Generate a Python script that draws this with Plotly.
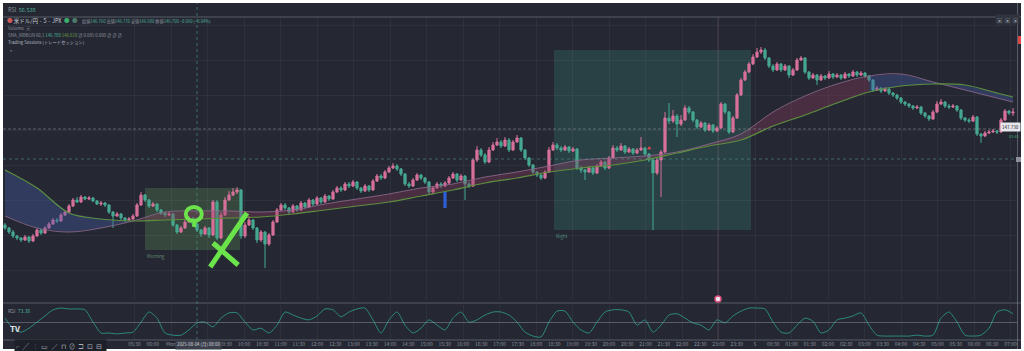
import plotly.graph_objects as go

W, H = 1024, 351


def px(x):
    return x / W


def py(y):
    return 1 - y / H


# ---------------- data (USD/JPY 5m) ----------------
first_open = 146.75
closes = [
    146.72, 146.68, 146.64, 146.62, 146.60, 146.63, 146.59, 146.64, 146.70, 146.67,
    146.72, 146.76, 146.80, 146.79, 146.85, 146.88, 146.94, 147.00, 146.98, 147.03,
    147.01, 147.02, 146.99, 146.96, 146.97, 146.95, 146.88, 146.84, 146.86, 146.82,
    146.80, 146.81, 146.84, 146.95, 147.05, 147.00, 146.94, 146.96, 146.90, 146.87,
    146.85, 146.86, 146.75, 146.68, 146.72, 146.78, 146.82, 146.76, 146.70, 146.66,
    146.72, 146.65, 146.98, 146.62, 146.85, 147.00, 147.05, 147.08, 147.10, 146.64,
    146.75, 146.80, 146.72, 146.60, 146.68, 146.56, 146.65, 146.78, 146.90, 146.95,
    146.92, 146.88, 146.94, 146.90, 146.97, 146.93, 147.00, 146.96, 147.02, 146.98,
    147.04, 147.01, 147.08, 147.12, 147.10, 147.16, 147.14, 147.18, 147.12, 147.09,
    147.14, 147.10, 147.19, 147.24, 147.22, 147.28, 147.32, 147.34, 147.31, 147.26,
    147.16, 147.14, 147.20, 147.25, 147.22, 147.18, 147.08, 147.12, 147.16, 147.14,
    147.17, 147.22, 147.26, 147.20, 147.24, 147.16, 147.14, 147.40, 147.50, 147.45,
    147.38, 147.50, 147.55, 147.58, 147.54, 147.60, 147.50, 147.58, 147.62, 147.50,
    147.42, 147.35, 147.28, 147.25, 147.22, 147.28, 147.50, 147.55, 147.52, 147.50,
    147.53, 147.49, 147.51, 147.32, 147.30, 147.28, 147.32, 147.27, 147.34, 147.38,
    147.32, 147.42, 147.52, 147.50, 147.54, 147.48, 147.51, 147.47, 147.50, 147.52,
    147.46, 147.40, 147.27, 147.40, 147.48, 147.82, 147.79, 147.84, 147.76, 147.80,
    147.92, 147.88, 147.80, 147.73, 147.77, 147.70, 147.75, 147.69, 147.72, 147.96,
    147.88, 147.68, 147.82, 148.05, 148.20, 148.28, 148.36, 148.43, 148.48, 148.50,
    148.42, 148.34, 148.30, 148.36, 148.30, 148.34, 148.25, 148.30, 148.40, 148.42,
    148.28, 148.22, 148.25, 148.20, 148.24, 148.22, 148.26, 148.23, 148.25, 148.22,
    148.26, 148.24, 148.28, 148.25, 148.27, 148.24, 148.20, 148.10, 148.12, 148.09,
    148.11, 148.07, 148.05, 148.02, 147.98, 147.96, 147.94, 147.92, 147.93, 147.87,
    147.84, 147.81, 147.88, 147.96, 147.98, 147.94, 147.93, 147.94, 147.90, 147.82,
    147.80, 147.79, 147.83, 147.66, 147.64, 147.67, 147.68, 147.69, 147.68, 147.80,
    147.89, 147.87, 147.88,
]
highs = [
    146.77, 146.73, 146.70, 146.65, 146.63, 146.65, 146.64, 146.66, 146.72, 146.71,
    146.74, 146.78, 146.82, 146.82, 146.87, 146.90, 146.96, 147.02, 147.03, 147.05,
    147.04, 147.04, 147.03, 147.00, 146.99, 146.98, 146.96, 146.89, 146.88, 146.87,
    146.83, 146.83, 146.86, 146.97, 147.08, 147.06, 147.01, 146.98, 146.97, 146.91,
    146.88, 146.88, 146.87, 146.76, 146.74, 146.80, 146.84, 146.83, 146.77, 146.71,
    146.74, 146.73, 147.00, 147.00, 146.88, 147.03, 147.09, 147.12, 147.13, 147.11,
    146.78, 146.84, 146.81, 146.73, 146.70, 146.69, 146.67, 146.80, 146.92, 146.97,
    146.97, 146.93, 146.96, 146.95, 146.99, 146.98, 147.02, 147.01, 147.04, 147.03,
    147.06, 147.05, 147.10, 147.14, 147.14, 147.18, 147.18, 147.20, 147.19, 147.13,
    147.16, 147.15, 147.21, 147.26, 147.26, 147.30, 147.34, 147.37, 147.36, 147.32,
    147.27, 147.18, 147.22, 147.27, 147.26, 147.23, 147.19, 147.14, 147.18, 147.18,
    147.19, 147.24, 147.28, 147.27, 147.26, 147.25, 147.18, 147.42, 147.54, 147.52,
    147.47, 147.53, 147.58, 147.62, 147.60, 147.63, 147.62, 147.60, 147.65, 147.63,
    147.51, 147.43, 147.36, 147.29, 147.27, 147.30, 147.53, 147.58, 147.57, 147.54,
    147.55, 147.54, 147.53, 147.52, 147.34, 147.31, 147.34, 147.33, 147.36, 147.40,
    147.39, 147.44, 147.55, 147.54, 147.57, 147.55, 147.53, 147.52, 147.52, 147.63,
    147.53, 147.47, 147.41, 147.42, 147.50, 147.88, 147.97, 147.90, 147.86, 147.85,
    147.95, 147.94, 147.89, 147.81, 147.79, 147.78, 147.77, 147.76, 147.74, 147.98,
    147.97, 147.89, 147.84, 148.07, 148.22, 148.30, 148.38, 148.46, 148.52, 148.53,
    148.52, 148.43, 148.36, 148.38, 148.37, 148.36, 148.35, 148.32, 148.42, 148.44,
    148.43, 148.29, 148.27, 148.26, 148.26, 148.25, 148.29, 148.27, 148.27, 148.26,
    148.28, 148.27, 148.30, 148.29, 148.29, 148.28, 148.25, 148.21, 148.14, 148.13,
    148.13, 148.12, 148.08, 148.06, 148.03, 147.99, 147.97, 147.95, 147.95, 147.94,
    147.88, 147.85, 147.90, 147.99, 148.01, 147.99, 147.96, 147.96, 147.95, 147.91,
    147.83, 147.82, 147.85, 147.84, 147.67, 147.69, 147.70, 147.71, 147.70, 147.82,
    147.91, 147.90, 147.92,
]
lows = [
    146.70, 146.66, 146.62, 146.60, 146.58, 146.59, 146.57, 146.58, 146.63, 146.65,
    146.66, 146.71, 146.75, 146.77, 146.78, 146.84, 146.87, 146.93, 146.97, 146.97,
    147.00, 147.00, 146.98, 146.95, 146.94, 146.93, 146.86, 146.72, 146.83, 146.80,
    146.78, 146.79, 146.80, 146.83, 146.94, 146.98, 146.92, 146.93, 146.88, 146.85,
    146.83, 146.84, 146.73, 146.66, 146.67, 146.71, 146.77, 146.74, 146.68, 146.63,
    146.65, 146.62, 146.64, 146.60, 146.61, 146.84, 146.99, 147.04, 147.06, 146.61,
    146.62, 146.74, 146.70, 146.57, 146.58, 146.32, 146.54, 146.64, 146.77, 146.89,
    146.90, 146.86, 146.87, 146.88, 146.89, 146.91, 146.92, 146.94, 146.95, 146.96,
    146.97, 146.99, 147.00, 147.07, 147.08, 147.09, 147.12, 147.13, 147.10, 147.07,
    147.08, 147.08, 147.09, 147.18, 147.20, 147.21, 147.27, 147.31, 147.29, 147.24,
    147.14, 147.12, 147.13, 147.19, 147.20, 147.16, 147.06, 147.06, 147.11, 147.12,
    147.13, 147.16, 147.21, 147.18, 147.19, 147.00, 147.12, 147.13, 147.38, 147.43,
    147.36, 147.37, 147.49, 147.54, 147.52, 147.53, 147.48, 147.49, 147.57, 147.48,
    147.40, 147.33, 147.26, 147.23, 147.20, 147.21, 147.27, 147.49, 147.50, 147.48,
    147.49, 147.47, 147.48, 147.30, 147.27, 147.20, 147.27, 147.25, 147.26, 147.33,
    147.30, 147.31, 147.41, 147.48, 147.49, 147.46, 147.47, 147.45, 147.46, 147.49,
    147.44, 147.38, 146.70, 147.25, 147.03, 147.47, 147.76, 147.77, 147.63, 147.74,
    147.79, 147.86, 147.78, 147.71, 147.72, 147.68, 147.69, 147.67, 147.68, 147.71,
    147.86, 147.66, 147.67, 147.81, 148.04, 148.19, 148.27, 148.35, 148.42, 148.46,
    148.40, 148.32, 148.28, 148.29, 148.28, 148.29, 148.22, 148.24, 148.29, 148.39,
    148.26, 148.20, 148.21, 148.15, 148.19, 148.20, 148.21, 148.21, 148.22, 148.20,
    148.21, 148.22, 148.23, 148.23, 148.24, 148.22, 148.18, 148.08, 148.09, 148.07,
    148.08, 148.05, 148.03, 148.00, 147.96, 147.94, 147.92, 147.90, 147.91, 147.85,
    147.82, 147.79, 147.80, 147.87, 147.95, 147.92, 147.91, 147.92, 147.88, 147.80,
    147.78, 147.77, 147.78, 147.64, 147.57, 147.63, 147.66, 147.67, 147.66, 147.67,
    147.79, 147.85, 147.84,
]
opens = [first_open] + closes[:-1]
bar_index = list(range(len(closes)))

# SMA ribbon (vertices every 8 bars)
ma_index = list(range(0, 249, 8)) + [252]
ma_slow = [147.30, 147.12, 146.87, 146.81, 146.79, 146.80, 146.81, 146.82, 146.83, 146.86,
           146.90, 146.94, 146.98, 147.04, 147.10, 147.17, 147.22, 147.28, 147.32, 147.35,
           147.40, 147.47, 147.54, 147.60, 147.74, 147.85, 147.97, 148.08, 148.14, 148.16,
           148.15, 148.07, 148.03]
ma_fast = [146.84, 146.72, 146.68, 146.72, 146.79, 146.88, 146.89, 146.89, 146.88, 146.90,
           146.96, 147.01, 147.06, 147.12, 147.16, 147.23, 147.28, 147.34, 147.40, 147.42,
           147.44, 147.48, 147.56, 147.66, 147.88, 148.04, 148.16, 148.24, 148.26, 148.18,
           148.10, 148.02, 147.98]
ribbon_segments = [(0, 4, "bear"), (4, 27, "bull"), (27, 32, "bear")]

# RSI (every 2 bars)
rsi = [60, 37, 28, 37, 51, 65, 79, 83, 81, 81,
       79, 51, 26, 26, 24, 26, 28, 51, 74, 60,
       26, 21, 21, 33, 49, 51, 40, 60, 72, 72,
       51, 33, 37, 26, 44, 74, 67, 60, 56, 65,
       81, 79, 63, 74, 81, 83, 56, 26, 56, 74,
       44, 26, 37, 56, 44, 33, 60, 74, 51, 56,
       67, 74, 74, 67, 51, 28, 19, 17, 51, 76,
       76, 51, 33, 26, 51, 74, 79, 79, 74, 44,
       56, 28, 44, 67, 70, 60, 49, 44, 33, 56,
       49, 65, 76, 83, 83, 81, 51, 28, 26, 44,
       60, 53, 26, 33, 56, 60, 65, 72, 44, 21,
       19, 19, 19, 19, 21, 19, 21, 60, 74, 51,
       21, 19, 21, 37, 74, 79, 70]
rsi_index = list(range(0, 2 * len(rsi), 2))

# Trading sessions
session_names = ["Morning", "Night"]
session_start = [35, 137.25]
session_end = [58.75, 186.5]
session_high = [147.12, 148.50]
session_low = [146.50, 146.70]

# time axis labels (30 min); the two right after "Mon" sit under the crosshair tag
time_labels = ["05:30", "06:00", "Mon", "08:30", "09:00", "09:30", "10:00", "10:30", "11:00",
               "11:30", "12:00", "12:30", "13:00", "13:30", "14:00", "14:30", "15:00", "15:30",
               "16:00", "16:30", "17:00", "17:30", "18:00", "18:30", "19:00", "19:30", "20:00",
               "20:30", "21:00", "21:30", "22:00", "22:30", "23:00", "23:30", "5", "00:30",
               "01:00", "01:30", "02:00", "02:30", "03:00", "03:30", "04:00", "04:30", "05:00",
               "05:30", "06:00", "06:30", "07:00"]
covered_by_crosshair = [3, 4]
mon_label_bar = 41.5
label_step = 4.5625
mon_pos = time_labels.index("Mon")
label_pos = [mon_label_bar + (k - mon_pos) * label_step for k in range(len(time_labels))]
grid_pos = label_pos[0::2]
shown = [k for k in range(len(time_labels)) if k not in covered_by_crosshair]
tick_vals = [label_pos[k] for k in shown]
tick_text = [time_labels[k] for k in shown]

crosshair_bar = 48
event_bar = 178.25
last_price_level = 147.71
dotted_level = 147.41

# ---------------- styles ----------------
BG = "#252833"
UP = "#d7719a"
DN = "#46a890"
GRID = "rgba(255,255,255,0.045)"
SEP = "rgba(150,155,170,0.45)"
FONT = "Noto Sans CJK JP"
HAND = "#6be34a"

fig = go.Figure()

# ribbon fills
fills = {"bear": "rgba(70,92,165,0.38)", "bull": "rgba(150,60,100,0.32)"}
for a, b, kind in ribbon_segments:
    sx = ma_index[a:b + 1]
    fig.add_trace(go.Scatter(x=sx, y=ma_slow[a:b + 1], mode="lines", line=dict(width=0),
                             hoverinfo="skip", xaxis="x", yaxis="y"))
    fig.add_trace(go.Scatter(x=sx, y=ma_fast[a:b + 1], mode="lines", line=dict(width=0),
                             fill="tonexty", fillcolor=fills[kind], hoverinfo="skip",
                             xaxis="x", yaxis="y"))
fig.add_trace(go.Scatter(x=ma_index, y=ma_fast, mode="lines",
                         line=dict(color="rgba(140,105,140,0.85)", width=1, shape="spline"),
                         hoverinfo="skip", xaxis="x", yaxis="y"))
fig.add_trace(go.Scatter(x=ma_index, y=ma_slow, mode="lines",
                         line=dict(color="#5c8f3e", width=1.2, shape="spline"),
                         hoverinfo="skip", xaxis="x", yaxis="y"))

fig.add_trace(go.Candlestick(
    x=bar_index, open=opens, high=highs, low=lows, close=closes,
    increasing=dict(line=dict(color=UP, width=1), fillcolor=UP),
    decreasing=dict(line=dict(color=DN, width=1), fillcolor=DN),
    whiskerwidth=0, hoverinfo="skip", xaxis="x", yaxis="y"))

fig.add_trace(go.Scatter(x=rsi_index, y=rsi, mode="lines",
                         line=dict(color="#2b8a7e", width=1, shape="spline", smoothing=0.7),
                         hoverinfo="skip", xaxis="x2", yaxis="y2"))

shapes = []
# session boxes
box_fill = ["rgba(95,150,85,0.30)", "rgba(60,150,135,0.22)"]
for i in range(len(session_names)):
    shapes.append(dict(type="rect", xref="x", yref="y", x0=session_start[i], x1=session_end[i],
                       y0=session_low[i], y1=session_high[i], fillcolor=box_fill[i],
                       line=dict(width=0), layer="below"))
# price level lines
shapes.append(dict(type="line", xref="paper", yref="y", x0=px(3), x1=px(1017),
                   y0=last_price_level, y1=last_price_level,
                   line=dict(color="rgba(150,155,165,0.5)", width=1, dash="3px,2px")))
shapes.append(dict(type="line", xref="paper", yref="y", x0=px(3), x1=px(1017),
                   y0=dotted_level, y1=dotted_level,
                   line=dict(color="rgba(90,150,140,0.55)", width=1, dash="dot")))
# crosshair vertical
shapes.append(dict(type="line", xref="x", yref="paper", x0=crosshair_bar, x1=crosshair_bar,
                   y0=py(340), y1=py(3), line=dict(color="rgba(80,160,150,0.55)", width=1, dash="dot")))
# event line
shapes.append(dict(type="line", xref="x", yref="paper", x0=event_bar, x1=event_bar,
                   y0=py(340), y1=py(17), line=dict(color="rgba(170,120,140,0.25)", width=1)))
# blue marker
shapes.append(dict(type="rect", xref="x", yref="y", x0=109.6, x1=110.4, y0=146.92, y1=147.08,
                   fillcolor="#2f5fd8", line=dict(width=0)))
# pane separators
for yy in (17, 303, 340):
    shapes.append(dict(type="line", xref="paper", yref="paper", x0=px(3), x1=px(1021),
                       y0=py(yy), y1=py(yy), line=dict(color=SEP, width=1)))
shapes.append(dict(type="line", xref="paper", yref="y2",
                   x0=px(3), x1=px(1017), y0=50, y1=50, line=dict(color=SEP, width=1)))
shapes.append(dict(type="line", xref="paper", yref="paper", x0=px(1017.5), x1=px(1017.5),
                   y0=py(349), y1=py(3), line=dict(color=SEP, width=1)))
# hand drawn marks
shapes.append(dict(type="circle", xref="x", yref="y", x0=45.2, x1=49.2, y0=146.79, y1=146.93,
                   line=dict(color=HAND, width=4)))
shapes.append(dict(type="line", xref="x", yref="y", x0=47.5, x1=47.2, y0=146.79, y1=146.73,
                   line=dict(color=HAND, width=4)))
shapes.append(dict(type="line", xref="x", yref="y", x0=60.5, x1=51.3, y0=146.87, y1=146.33,
                   line=dict(color=HAND, width=5)))
shapes.append(dict(type="line", xref="x", yref="y", x0=52.0, x1=58.3, y0=146.57, y1=146.35,
                   line=dict(color=HAND, width=5)))
# event icon
shapes.append(dict(type="circle", xref="paper", yref="paper", x0=px(715), x1=px(721),
                   y0=py(302), y1=py(296), fillcolor="#f2e6ee", line=dict(color="#d8507e", width=1.5)))
# right edge tags
shapes.append(dict(type="rect", xref="paper", yref="paper", x0=px(1018), x1=px(1021),
                   y0=py(44), y1=py(36), fillcolor="#e04848", line=dict(width=0)))
shapes.append(dict(type="rect", xref="paper", yref="paper", x0=px(1016), x1=px(1021),
                   y0=py(162), y1=py(157), fillcolor="#8d909a", line=dict(width=0)))
# white frame
for x0, x1, y0, y1 in ((0, 1024, 0, 3), (0, 1024, 349, 351), (0, 3, 0, 351), (1021, 1024, 0, 351)):
    shapes.append(dict(type="rect", xref="paper", yref="paper", x0=px(x0), x1=px(x1),
                       y0=py(y1), y1=py(y0), fillcolor="white", line=dict(width=0)))

G = "#8a8f9c"
T = "#4fae98"
ann = []


def note(x, y, text, size=5.5, color=G, anchor="left", bg=None, yref="paper", xref="paper",
         yshift=0):
    d = dict(x=px(x) if xref == "paper" else x, y=py(y) if yref == "paper" else y,
             xref=xref, yref=yref, text=text, showarrow=False, xanchor=anchor,
             yanchor="middle", font=dict(size=size, color=color, family=FONT), yshift=yshift)
    if bg:
        d.update(bgcolor=bg, borderpad=1)
    ann.append(d)


note(6, 10, f"RSI  <span style='color:{T}'>56.538</span>", 5.5)
note(5, 21, "<span style='color:#d05a5a'>●</span> <span style='color:#c9ccd4'>米ドル/円 · 5 · JPX</span>"
     "  <span style='color:#3cae6c'>●</span>  <span style='color:#4a7a6a'>●</span>", 5.5)
note(80, 21, f"始値<span style='color:{T}'>146.760</span> 高値<span style='color:{T}'>146.770</span> "
     f"安値<span style='color:{T}'>146.680</span> 終値<span style='color:{T}'>146.700</span> "
     f"<span style='color:{T}'>−0.060 (−0.04%)</span>", 4.2)
note(6, 28, "Volume  <span style='color:#6a6f7c'>▣</span>", 4.5)
note(6, 35, f"SMA_RIBBON 60,1 <span style='color:{T}'>146.780</span> "
     "<span style='color:#6a9f4a'>146.810</span> ∅ 0.005 0.000 ∅ ∅ ∅", 4.3)
note(6, 43, "Trading Sessions (トレードセッション)", 4.3, "#b4b8c2")
note(7, 51, "⌃", 5, "#b4b8c2")

note(session_start[0], session_low[0], session_names[0], 4.5, "rgba(120,170,130,0.8)",
     xref="x", yref="y", yshift=-6)
note(session_start[1], session_low[1], session_names[1], 4.5, "rgba(90,170,150,0.8)",
     xref="x", yref="y", yshift=-6)

note(6, 310, f"RSI  <span style='color:{T}'>73.36</span>", 5)
note(8, 328, "<b>TV</b>", 8, "#e6e6ea")
note(14, 346, "⌐  ╱  ╎  ▭  ∕  ⊓  ⊘  ⊐  ⊡  ⊟  ", 6.5, "#aab0bb", bg="#1d2028")
note(198, 344, "2025-08-04 (月) 08:00", 4.4, "#d2d5dc", anchor="center", bg="#3a3e4a")
note(1021, 127, "147.730", 4.5, "#1e2028", anchor="right", bg="#e6e7ec")
note(1021, 136, "02:41", 4, "#3caf6c", anchor="right")
for xx in (999, 1007, 1015):
    note(xx, 20, "▣", 5, "#9a9ea8", anchor="center", bg="#30343f")
note(161, 147.52, "▲", 4, "#e04848", anchor="center", xref="x", yref="y")

xcommon = dict(range=[-0.5, 253], showgrid=False, zeroline=False, showline=False,
               tickmode="array", tickvals=tick_vals, ticktext=tick_text, ticks="",
               minor=dict(tickmode="array", tickvals=grid_pos, showgrid=True,
                          gridcolor=GRID, gridwidth=1, ticks=""),
               domain=[px(3), px(1017)], fixedrange=True)

fig.update_layout(
    width=W, height=H, margin=dict(l=0, r=0, t=0, b=0),
    paper_bgcolor=BG, plot_bgcolor=BG, showlegend=False, hovermode=False,
    boxgap=0.22, dragmode=False,
    xaxis=dict(**xcommon, anchor="y", showticklabels=False, rangeslider=dict(visible=False)),
    xaxis2=dict(**xcommon, anchor="y2", matches="x", showticklabels=True,
                tickfont=dict(size=5, color=G, family=FONT)),
    yaxis=dict(domain=[py(300), py(18)], range=[146.00, 148.82], showticklabels=False,
               showgrid=True, gridcolor=GRID, tick0=148.40, dtick=0.35, zeroline=False,
               fixedrange=True),
    yaxis2=dict(domain=[py(340), py(305)], range=[10, 90], showticklabels=False,
                showgrid=False, zeroline=False, fixedrange=True),
    shapes=shapes, annotations=ann,
)

fig.write_html("out.html", config={"displayModeBar": False})
